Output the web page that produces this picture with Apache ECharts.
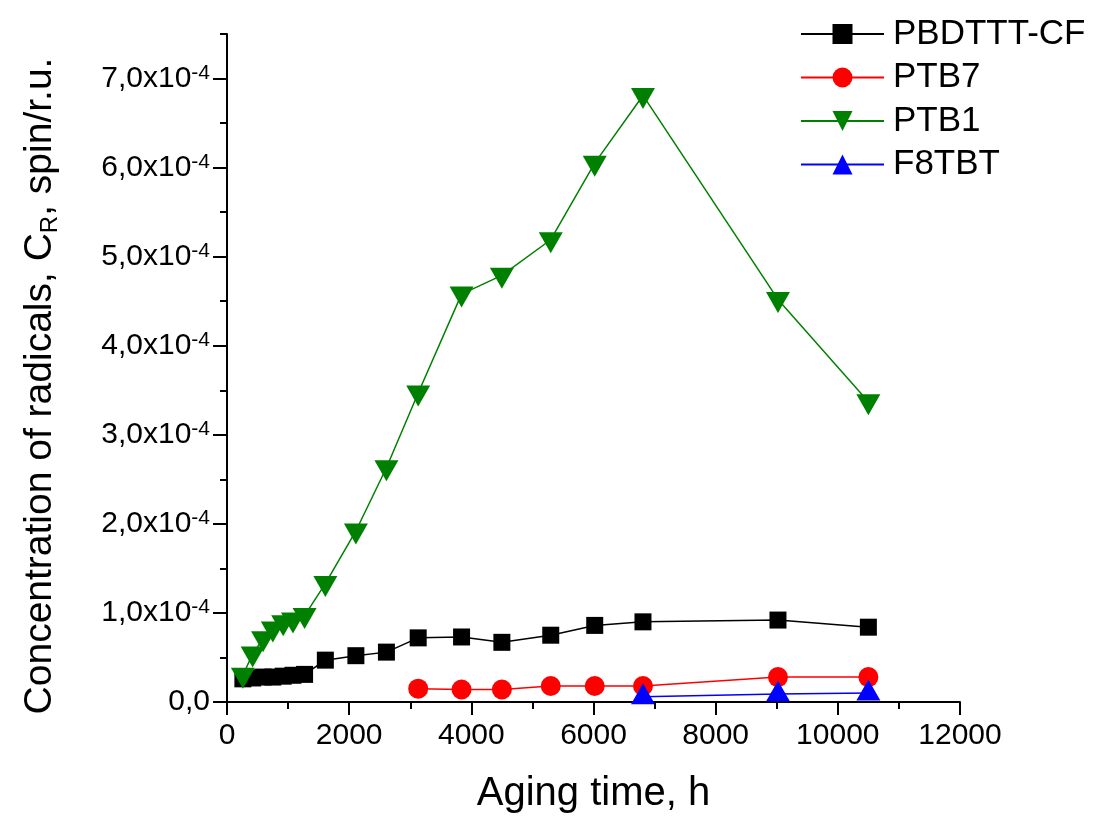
<!DOCTYPE html>
<html>
<head>
<meta charset="utf-8">
<script src="https://cdn.jsdelivr.net/npm/echarts@6/dist/echarts.min.js"></script>
<style>
html,body{margin:0;padding:0;background:#fff;}
#chart{width:1097px;height:819px;}
</style>
</head>
<body>
<div id="chart"></div>
<script>
// ---- data ----
const timesMain = [260, 420, 590, 750, 920, 1080, 1270, 1610, 2110, 2610, 3130, 3840, 4500, 5300, 6020, 6810, 9020, 10500];
const pbdtttCF = [0.26e-4, 0.27e-4, 0.28e-4, 0.28e-4, 0.29e-4, 0.30e-4, 0.31e-4, 0.47e-4, 0.52e-4, 0.56e-4, 0.72e-4, 0.73e-4, 0.67e-4, 0.75e-4, 0.86e-4, 0.90e-4, 0.92e-4, 0.84e-4];
const ptb1 = [0.30e-4, 0.54e-4, 0.71e-4, 0.82e-4, 0.89e-4, 0.92e-4, 0.97e-4, 1.33e-4, 1.92e-4, 2.63e-4, 3.47e-4, 4.58e-4, 4.79e-4, 5.19e-4, 6.05e-4, 6.81e-4, 4.52e-4, 3.37e-4];
const timesPTB7 = [3130, 3840, 4500, 5300, 6020, 6810, 9020, 10500];
const ptb7 = [0.15e-4, 0.14e-4, 0.14e-4, 0.18e-4, 0.18e-4, 0.18e-4, 0.28e-4, 0.28e-4];
const timesF8TBT = [6810, 9020, 10500];
const f8tbt = [0.06e-4, 0.09e-4, 0.10e-4];
const seriesNames = ['PBDTTT-CF', 'PTB7', 'PTB1', 'F8TBT'];
const xTicks = [0, 2000, 4000, 6000, 8000, 10000, 12000];
const yTicks = [0, 1e-4, 2e-4, 3e-4, 4e-4, 5e-4, 6e-4, 7e-4];
const yTickMantissas = ['0,0', '1,0', '2,0', '3,0', '4,0', '5,0', '6,0', '7,0'];
const yExponent = '-4';

const zip = (xs, ys) => xs.map((x, i) => [x, ys[i]]);
const FONT = 'Liberation Sans';

function yLabel(v) {
  let idx = -1;
  for (let i = 0; i < yTicks.length; i++) if (Math.abs(yTicks[i] - v) < 1e-9) idx = i;
  if (idx < 0) return '';
  if (idx === 0) return '{b|' + yTickMantissas[0] + '}';
  return '{b|' + yTickMantissas[idx] + 'x10}{s|' + yExponent + '}';
}

const chart = echarts.init(document.getElementById('chart'), null, {renderer: 'canvas'});
const axisLineStyle = {color: '#000', width: 2};
chart.setOption({
  backgroundColor: '#fff',
  animation: false,
  textStyle: {fontFamily: FONT, color: '#000'},
  grid: {left: 227, right: 137, top: 34, bottom: 116, containLabel: false},
  legend: {
    orient: 'vertical',
    left: 795, top: 11,
    itemWidth: 83, itemHeight: 25, itemGap: 7.5,
    data: seriesNames,
    textStyle: {fontFamily: FONT, fontSize: 35, color: '#000', lineHeight: 36, padding: [0, 0, 0, 4]}
  },
  xAxis: {
    type: 'value', min: 0, max: 12000, interval: 2000,
    name: 'Aging time, h', nameLocation: 'middle', nameGap: 72,
    nameTextStyle: {fontFamily: FONT, fontSize: 40, color: '#000'},
    axisLine: {show: true, onZero: false, lineStyle: axisLineStyle},
    axisTick: {show: true, length: 13, lineStyle: {color: '#000', width: 2}},
    minorTick: {show: true, splitNumber: 2, length: 7, lineStyle: {color: '#000', width: 2}},
    axisLabel: {fontFamily: FONT, fontSize: 30, color: '#000', margin: 19,
      formatter: v => xTicks.indexOf(v) >= 0 ? String(v) : ''},
    splitLine: {show: false}
  },
  yAxis: [{
    type: 'value', min: 0, max: 7.5e-4,
    name: '{m|Concentration of radicals, C}{sub|R}{m|, spin/r.u.}',
    nameLocation: 'middle', nameGap: 165, nameRotate: 90,
    nameTextStyle: {fontFamily: FONT, fontSize: 39, color: '#000', padding: [0, 36, 0, 0],
      rich: {
        m: {fontFamily: FONT, fontSize: 39, color: '#000', lineHeight: 44},
        sub: {fontFamily: FONT, fontSize: 24, color: '#000', lineHeight: 44, verticalAlign: 'bottom', padding: [22, 0, 0, 0]}
      }},
    axisLine: {show: true, onZero: false, lineStyle: axisLineStyle},
    axisTick: {show: true, length: 14, customValues: yTicks, lineStyle: {color: '#000', width: 2}},
    axisLabel: {customValues: yTicks, fontFamily: FONT, fontSize: 30, color: '#000', margin: 17,
      formatter: yLabel,
      rich: {
        b: {fontFamily: FONT, fontSize: 30, color: '#000', lineHeight: 32},
        s: {fontFamily: FONT, fontSize: 21, color: '#000', lineHeight: 32, verticalAlign: 'top', padding: [0, 0, 12, 0]}
      }},
    splitLine: {show: false}
  }, {
    type: 'value', min: 0, max: 7.5e-4, interval: 0.5e-4, position: 'left',
    axisLine: {show: false},
    axisTick: {show: true, length: 7, lineStyle: {color: '#000', width: 2}},
    axisLabel: {show: false},
    splitLine: {show: false}
  }],
  series: [
    {name: seriesNames[0], type: 'line', data: zip(timesMain, pbdtttCF),
      symbol: 'rect', symbolSize: 17, color: '#000000',
      lineStyle: {width: 1.5, color: '#000000'}, itemStyle: {color: '#000000'}},
    {name: seriesNames[1], type: 'line', data: zip(timesPTB7, ptb7),
      symbol: 'circle', symbolSize: 20, color: '#ff0000',
      lineStyle: {width: 1.5, color: '#ff0000'}, itemStyle: {color: '#ff0000'}},
    {name: seriesNames[2], type: 'line', data: zip(timesMain, ptb1),
      symbol: 'triangle', symbolRotate: 180, symbolSize: [24, 21], symbolOffset: [0, 3], color: '#008000',
      lineStyle: {width: 1.5, color: '#008000'}, itemStyle: {color: '#008000'}},
    {name: seriesNames[3], type: 'line', data: zip(timesF8TBT, f8tbt),
      symbol: 'triangle', symbolSize: [24, 21], symbolOffset: [0, -3], color: '#0000ff',
      lineStyle: {width: 1.5, color: '#0000ff'}, itemStyle: {color: '#0000ff'}}
  ]
});
</script>
</body>
</html>
